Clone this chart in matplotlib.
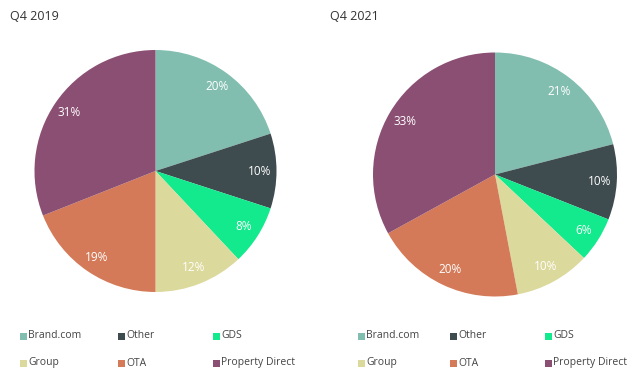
import matplotlib
matplotlib.use("Agg")
import matplotlib.pyplot as plt
from matplotlib.patches import Rectangle

plt.rcParams['font.family'] = ['Open Sans', 'DejaVu Sans']

categories = ["Brand.com", "Other", "GDS", "Group", "OTA", "Property Direct"]
colors = ["#82BEAF", "#3E4B4F", "#13E98D", "#DCD99C", "#D47A58", "#8B4F73"]
q4_2019 = [20, 10, 8, 12, 19, 31]
q4_2021 = [21, 10, 6, 10, 20, 33]
titles = ["Q4 2019", "Q4 2021"]

W, H = 643, 388
fig = plt.figure(figsize=(W / 100, H / 100), dpi=100)

def px_axes(cx, cy, r):
    return fig.add_axes([(cx - r) / W, (H - cy - r) / H, 2 * r / W, 2 * r / H])

axes = [px_axes(155.5, 171, 121), px_axes(495, 174.5, 122)]
for ax, vals in zip(axes, [q4_2019, q4_2021]):
    wedges, texts, autotexts = ax.pie(vals, colors=colors, startangle=90, counterclock=False,
                                      autopct=lambda p: f"{p:.0f}%", pctdistance=0.86,
                                      textprops=dict(color="white", fontsize=8.5))
    ax.set_xlim(-1, 1)
    ax.set_ylim(-1, 1)
    ax.set_aspect("equal")

fig.text(10 / W, 1 - 17 / H, titles[0], fontsize=9, color="#333333", va="center", ha="left")
fig.text(330 / W, 1 - 17 / H, titles[1], fontsize=9, color="#333333", va="center", ha="left")

col_x = [[20, 118, 213], [358, 450, 545]]
row_y = [336, 363]
for cols in col_x:
    for i, (lab, c) in enumerate(zip(categories, colors)):
        x = cols[i % 3]
        y = row_y[i // 3]
        fig.add_artist(Rectangle(((x) / W, 1 - (y + 3.5) / H), 7 / W, 7 / H,
                                 transform=fig.transFigure, facecolor=c, edgecolor="none"))
        fig.text((x + 8) / W, 1 - y / H, lab, fontsize=7.5, color="#444444", va="center", ha="left")

fig.savefig("out.png", dpi=100)
